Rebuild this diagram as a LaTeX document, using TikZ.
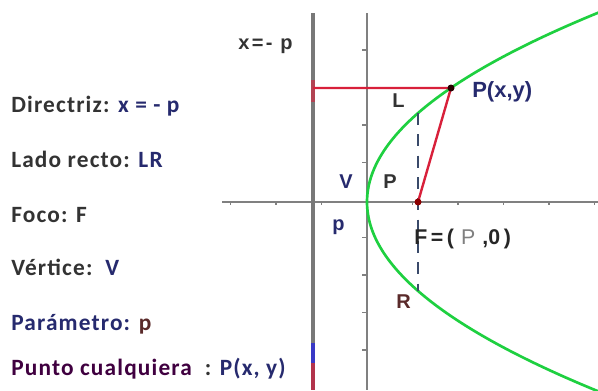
\documentclass[tikz,border=0pt]{standalone}
\usepackage{fontspec}
\setmainfont{Carlito}[LetterSpace=5]
\newfontfamily\arialf{Liberation Sans}
\newfontfamily\arialwide{Liberation Sans}[LetterSpace=12]
\definecolor{lblgray}{HTML}{333333}
\definecolor{navy}{HTML}{262A6E}
\definecolor{axisgray}{HTML}{808080}
\definecolor{dirgray}{HTML}{787878}
\definecolor{parabgreen}{HTML}{1ED040}
\definecolor{redl}{HTML}{D8203A}
\definecolor{dashc}{HTML}{3A4A6A}
\definecolor{brownr}{HTML}{5A2A2A}
\tikzset{
  lbl/.style={anchor=base west, inner sep=0pt, text=lblgray, font=\fontsize{17.5}{21}\selectfont\bfseries},
  dlbl/.style={anchor=base west, inner sep=0pt, font=\arialf\fontsize{15}{17}\selectfont\bfseries},
  axisline/.style={draw=axisgray, line width=1.1pt},
  dirline/.style={draw=dirgray, line width=2.4pt},
  parab/.style={draw=parabgreen, line width=2pt},
  redline/.style={draw=redl, line width=1.8pt},
  latus/.style={draw=dashc, line width=1.2pt, dash pattern=on 9pt off 7pt},
  tick/.style={draw=axisgray, line width=0.8pt}
}
\begin{document}
\begin{tikzpicture}[x=0.75pt,y=-0.75pt]
\useasboundingbox (0,0) rectangle (598,390);
\fill[white] (0,0) rectangle (598,390);

% coordinates
\coordinate (V) at (367,202);
\coordinate (F) at (418,202);
\coordinate (P) at (451,88);
\coordinate (D) at (313,88);
\coordinate (L) at (418,113);
\coordinate (R) at (418,291);
\coordinate (dtop) at (313,13);
\coordinate (dbot) at (313,390);
\coordinate (ytop) at (367,13);
\coordinate (ybot) at (367,390);
\coordinate (xl) at (222,202);
\coordinate (xr) at (598,202);

% axes
\draw[axisline] (xl) -- (xr);
\draw[axisline] (ytop) -- (ybot);
\foreach \yy in {50,87.5,125,162.5,237.5,275,312.5,350}
  \draw[tick] (362,\yy) -- (367,\yy);
\foreach \xx in {230.5,276,321.5,412.5,458,503.5,549,594.5}
  \draw[tick] (\xx,202) -- (\xx,205);
% directrix
\draw[dirline] (dtop) -- (dbot);
\draw[draw=redl!60!dirgray, line width=2.4pt] (313,80) -- (313,102);
\draw[draw=blue!55!gray, line width=2.4pt] (313,343) -- (313,363);
\draw[draw=violet!60!orange, line width=2.4pt] (313,363) -- (313,390);

% parabola
\begin{scope}
\clip (0,0) rectangle (598,390);
\draw[parab] plot[domain=-20:19.5, samples=120, smooth] ({367+\x*\x/1.55},{202+10*\x});
\end{scope}

% latus rectum
\draw[latus] (L) -- (R);
% red segments
\draw[redline] (D) -- (P) -- (F);
\fill[black!85!red] (P) circle (3.5);
\fill[red!55!black] (F) circle (3.5);

% left labels
\node[lbl] (ldir) at (11,112) {Directriz: \textcolor{navy}{x = - p}};
\node[lbl] (llr) at (11,167) {Lado recto: \textcolor{navy}{LR}};
\node[lbl] (lfoco) at (11,222) {Foco: F};
\node[lbl] (lvert) at (11,275) {Vértice:\ \ \textcolor{navy}{V}};
\node[lbl] (lpar) at (11,330) {\textcolor{navy}{Parámetro:} \textcolor{brownr}{p}};
\node[lbl] (lpunto) at (11,375) {\textcolor{violet!50!black}{Punto cualquiera}\ \ : \textcolor{navy}{P(x, y)}};

% diagram labels
\node[dlbl, text=lblgray, font=\arialwide\fontsize{15}{17}\selectfont\bfseries] (xeq) at (238,49) {x=-\ p};
\node[dlbl, text=lblgray] (lL) at (392,107) {L};
\node[dlbl, text=navy, font=\arialf\fontsize{16.5}{18}\selectfont\bfseries] (lP) at (472,97) {P(x,y)};
\node[dlbl, text=navy] (lV) at (339,188) {V};
\node[dlbl, text=lblgray] (lPp) at (383,188) {P};
\node[dlbl, text=navy] (lp) at (332,230) {p};
\node[dlbl, text=black!85, font=\arialf\fontsize{16}{18}\selectfont\bfseries] (lF) at (414,244) {F\,=\,(\,\,{\mdseries\color{gray}P}\,\,,0\,)};
\node[dlbl, text=brownr] (lR) at (396,308) {R};
\end{tikzpicture}
\end{document}
